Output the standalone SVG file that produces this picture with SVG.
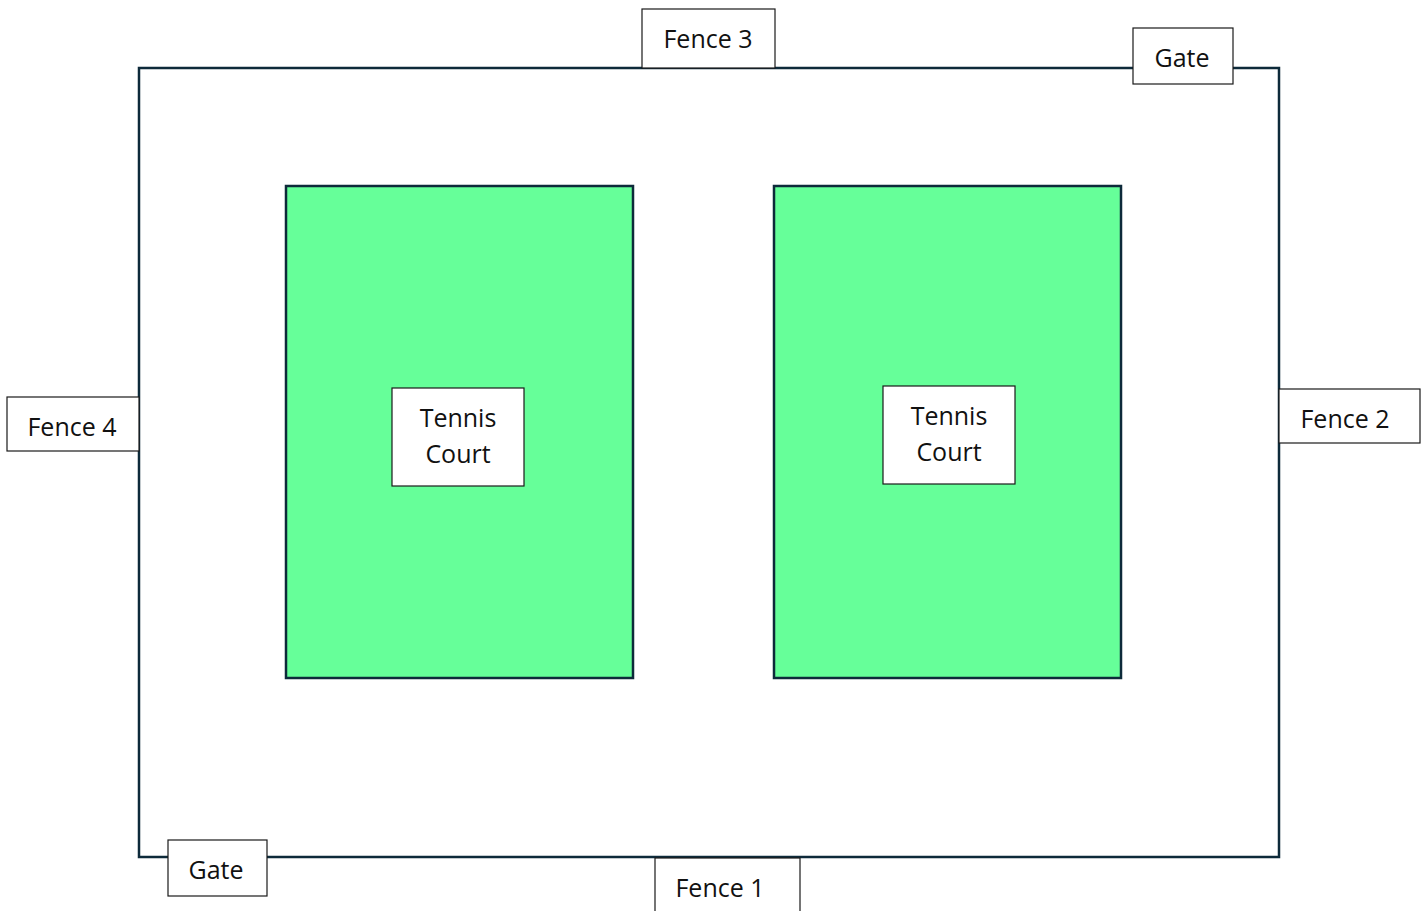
<svg xmlns="http://www.w3.org/2000/svg" width="1426" height="911" viewBox="0 0 1426 911">
<style>
.bg{fill:#ffffff}
.fence{fill:none;stroke:#0d2a3a;stroke-width:2.5}
.court{fill:#66ff99;stroke:#0d2a3a;stroke-width:2.5}
.box{fill:#ffffff;stroke:#1a1a1a;stroke-width:1.2}
.t{font-family:"Open Sans","Liberation Sans",sans-serif;font-size:25px;fill:#111111;text-anchor:middle}
</style>
<rect class="bg" x="0" y="0" width="1426" height="911"/>
<rect id="enclosure" class="fence" x="139" y="68" width="1140" height="789"/>
<g id="court-left">
<rect class="court" x="286" y="186" width="347" height="492"/>
<rect class="box" x="392" y="388" width="132" height="98"/>
<text class="t" x="458" y="427">Tennis</text>
<text class="t" x="458" y="463">Court</text>
</g>
<g id="court-right">
<rect class="court" x="774" y="186" width="347" height="492"/>
<rect class="box" x="883" y="386" width="132" height="98"/>
<text class="t" x="949" y="425">Tennis</text>
<text class="t" x="949" y="461">Court</text>
</g>
<g id="fence3">
<rect class="box" x="642" y="9" width="133" height="59"/>
<text class="t" x="708" y="48">Fence 3</text>
</g>
<g id="gate-top">
<rect class="box" x="1133" y="28" width="100" height="56"/>
<text class="t" x="1182" y="67">Gate</text>
</g>
<g id="fence4">
<rect class="box" x="7" y="397" width="132" height="54"/>
<text class="t" x="72" y="436">Fence 4</text>
</g>
<g id="fence2">
<rect class="box" x="1279" y="389" width="141" height="54"/>
<text class="t" x="1345" y="428">Fence 2</text>
</g>
<g id="gate-bottom">
<rect class="box" x="168" y="840" width="99" height="56"/>
<text class="t" x="216" y="879">Gate</text>
</g>
<g id="fence1">
<rect class="box" x="655" y="858" width="145" height="60"/>
<text class="t" x="720" y="897">Fence 1</text>
</g>
</svg>
